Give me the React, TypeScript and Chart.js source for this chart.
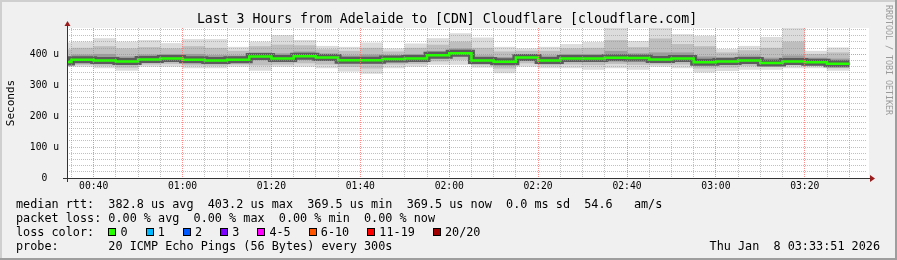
import React, { useEffect, useRef } from "react";
import { Chart, registerables } from "chart.js";

Chart.register(...registerables);

// ---- data ----
// start minute (after midnight) of each 5-minute smokeping step
const SLOT_START = [30, 35, 40, 45, 50, 55, 60, 65, 70, 75, 80, 85, 90, 95, 100, 105, 110, 115,
  120, 125, 130, 135, 140, 145, 150, 155, 160, 165, 170, 175, 180, 185, 190, 195, 200, 205];
// median rtt (microseconds)
const MEDIAN_RTT = [375, 382, 380, 377, 383, 386, 382, 380, 382, 393, 386, 394, 390, 381, 381, 385, 386, 397,
  403.2, 380, 376, 390, 380, 386, 386, 389, 388, 383, 386, 374, 377, 380, 372, 377, 374, 369.5];
// lowest / highest ping of the step
const MIN_RTT = [360, 361, 356, 348, 361, 361, 356, 356, 361, 348, 361, 361, 356, 345, 338, 356, 361, 367,
  367, 358, 340, 361, 356, 356, 351, 356, 351, 361, 356, 342, 347, 351, 351, 356, 356, 348];
const MAX_RTT = [437, 440, 451, 440, 445, 435, 448, 448, 423, 440, 461, 445, 426, 423, 437, 418, 434, 451,
  467, 453, 423, 418, 423, 432, 439, 486, 442, 488, 464, 459, 416, 426, 455, 484, 410, 421];
// outer-middle smoke band
const LOW_2 = [365, 367, 364, 358, 368, 370, 365, 364, 368, 365, 368, 372, 368, 360, 355, 368, 370, 378,
  383, 366, 355, 372, 365, 368, 366, 370, 367, 368, 368, 355, 358, 363, 360, 365, 363, 356];
const HIGH_2 = [415, 420, 425, 418, 422, 418, 425, 420, 410, 425, 430, 428, 415, 410, 420, 408, 420, 430,
  440, 420, 408, 410, 410, 418, 420, 445, 422, 450, 432, 425, 405, 412, 420, 440, 400, 405];
// inner smoke band
const LOW_1 = [370, 375, 372, 368, 376, 378, 374, 372, 375, 382, 377, 385, 380, 372, 370, 377, 378, 388,
  395, 373, 366, 382, 373, 378, 377, 380, 378, 376, 377, 366, 370, 372, 366, 371, 369, 363];
const HIGH_1 = [390, 398, 400, 392, 398, 400, 400, 396, 395, 405, 402, 408, 402, 395, 398, 396, 400, 410,
  418, 395, 390, 400, 395, 400, 400, 410, 402, 405, 405, 392, 390, 395, 388, 395, 388, 385];

const X_LABEL_MINUTES = [40, 60, 80, 100, 120, 140, 160, 180, 200];
const X_TICK_LABELS = ["00:40", "01:00", "01:20", "01:40", "02:00", "02:20", "02:40", "03:00", "03:20"];
const Y_LABEL_VALUES = [0, 100, 200, 300, 400];
const Y_TICK_LABELS = ["0  ", "100 u", "200 u", "300 u", "400 u"];

const LOSS_LABELS = ["0", "1", "2", "3", "4-5", "6-10", "11-19", "20/20"];
const LOSS_COLORS = ["#26ff00", "#00b8ff", "#0059ff", "#7e00ff", "#ff00ff", "#ff5500", "#ff0000", "#a10000"];

const TITLE = "Last 3 Hours from Adelaide to [CDN] Cloudflare [cloudflare.com]";
const STATS_RTT = "median rtt:  382.8 us avg  403.2 us max  369.5 us min  369.5 us now  0.0 ms sd  54.6   am/s";
const STATS_LOSS = "packet loss: 0.00 % avg  0.00 % max  0.00 % min  0.00 % now";
const LOSS_TITLE = "loss color:";
const PROBE_TEXT = "probe:       20 ICMP Echo Pings (56 Bytes) every 300s";
const DATE_TEXT = "Thu Jan  8 03:33:51 2026";
const Y_TITLE = "Seconds";
const WATERMARK = "RRDTOOL / TOBI OETIKER";

// ---- axis range (minutes after midnight) ----
const X_MIN = 34;
const X_MAX = 214;
const Y_MAX = 485;
const STEP = 5;

const FONT = '"DejaVu Sans Mono", monospace';
const GRID_GRAY = "rgba(150,150,150,0.6)";
const GRID_RED = "rgba(255,110,110,0.8)";

const decorPlugin = {
  id: "decor",
  beforeDraw(chart: any) {
    const { ctx, width, height, chartArea: a } = chart;
    ctx.save();
    ctx.fillStyle = "#f0f0f0";
    ctx.fillRect(0, 0, width, height);
    ctx.fillStyle = "#cfcfcf";
    ctx.fillRect(0, 0, width, 2);
    ctx.fillRect(0, 0, 2, height);
    ctx.fillStyle = "#9e9e9e";
    ctx.fillRect(0, height - 2, width, 2);
    ctx.fillRect(width - 2, 0, 2, height);
    ctx.fillStyle = "#ffffff";
    ctx.fillRect(a.left, a.top, a.right - a.left + 2, a.bottom - a.top);
    ctx.restore();
  },
  afterDraw(chart: any) {
    const { ctx, chartArea: a } = chart;
    ctx.save();
    // axes
    ctx.fillStyle = "#333333";
    const ax = Math.round(a.left);
    const ay = Math.round(a.bottom);
    ctx.fillRect(ax, a.top - 2, 1, ay - a.top + 6);
    ctx.fillRect(ax - 4, ay, a.right - ax + 7, 1);
    // arrows
    ctx.fillStyle = "#9b1c1c";
    ctx.beginPath();
    ctx.moveTo(ax - 2.5, a.top - 2);
    ctx.lineTo(ax + 0.5, a.top - 7);
    ctx.lineTo(ax + 3.5, a.top - 2);
    ctx.closePath();
    ctx.fill();
    ctx.beginPath();
    ctx.moveTo(a.right + 3, ay - 3);
    ctx.lineTo(a.right + 8, ay + 0.5);
    ctx.lineTo(a.right + 3, ay + 4);
    ctx.closePath();
    ctx.fill();

    // title
    ctx.fillStyle = "#000000";
    ctx.font = `13.2px ${FONT}`;
    ctx.textAlign = "center";
    ctx.textBaseline = "alphabetic";
    ctx.fillText(TITLE, 447, 23);

    // y title
    ctx.save();
    ctx.font = `11px ${FONT}`;
    ctx.translate(14, (a.top + a.bottom) / 2);
    ctx.rotate(-Math.PI / 2);
    ctx.textAlign = "center";
    ctx.fillText(Y_TITLE, 0, 0);
    ctx.restore();

    // watermark
    ctx.save();
    ctx.font = `8.3px ${FONT}`;
    ctx.fillStyle = "#9a9a9a";
    ctx.translate(886, 5);
    ctx.rotate(Math.PI / 2);
    ctx.textAlign = "left";
    ctx.fillText(WATERMARK, 0, 0);
    ctx.restore();

    // legend
    ctx.font = `11.8px ${FONT}`;
    ctx.textAlign = "left";
    ctx.fillStyle = "#000000";
    ctx.fillText(STATS_RTT, 16, 208);
    ctx.fillText(STATS_LOSS, 16, 222);
    ctx.fillText(LOSS_TITLE, 16, 236);
    ctx.fillText(PROBE_TEXT, 16, 250);
    const charW = ctx.measureText("0").width;
    let bx = 108.3;
    LOSS_LABELS.forEach((lab, i) => {
      const x = Math.round(bx);
      ctx.fillStyle = LOSS_COLORS[i];
      ctx.fillRect(x, 228, 8, 8);
      ctx.strokeStyle = "#000000";
      ctx.lineWidth = 1;
      ctx.strokeRect(x + 0.5, 228.5, 7, 7);
      ctx.fillStyle = "#000000";
      ctx.fillText(lab, bx + 12.3, 236);
      bx += 11.3 + lab.length * charW + 18.8;
    });
    ctx.textAlign = "right";
    ctx.fillText(DATE_TEXT, 880, 250);
    ctx.restore();
  },
};

function bandDataset(lo: number[], hi: number[], color: string, order: number) {
  return {
    type: "bar" as const,
    data: SLOT_START.map((s, i) => ({ x: s + STEP / 2, y: [lo[i], hi[i]] })),
    backgroundColor: color,
    borderWidth: 0,
    barPercentage: 1,
    categoryPercentage: 1,
    grouped: false,
    order,
  };
}

function medianPoints() {
  const pts = SLOT_START.map((s, i) => ({ x: s, y: MEDIAN_RTT[i] }));
  const last = SLOT_START.length - 1;
  pts.push({ x: SLOT_START[last] + STEP, y: MEDIAN_RTT[last] });
  return pts;
}

export default function App() {
  const ref = useRef<HTMLCanvasElement>(null);
  useEffect(() => {
    document.body.style.margin = "0";
    const gridMinutes: number[] = [];
    for (let m = 35; m < X_MAX; m += STEP) gridMinutes.push(m);

    const chart = new Chart(ref.current as HTMLCanvasElement, {
      type: "bar",
      data: {
        datasets: [
          bandDataset(MIN_RTT, MAX_RTT, "#dcdcdc", 6),
          bandDataset(LOW_2, HIGH_2, "#bebebe", 5),
          bandDataset(LOW_1, HIGH_1, "#9c9c9c", 4),
          {
            type: "line",
            data: medianPoints(),
            borderColor: "#5c5c5c",
            borderWidth: 7,
            stepped: true,
            pointRadius: 0,
            borderCapStyle: "butt",
            order: 2,
          } as any,
          {
            type: "line",
            data: medianPoints(),
            borderColor: "#26ff00",
            borderWidth: 2.5,
            stepped: true,
            pointRadius: 0,
            borderCapStyle: "butt",
            order: 1,
          } as any,
        ],
      },
      options: {
        responsive: false,
        animation: false,
        devicePixelRatio: 1,
        layout: { padding: { top: 28, right: 30, left: 0, bottom: 0 } },
        plugins: { legend: { display: false }, tooltip: { enabled: false }, title: { display: false } },
        scales: {
          x: {
            type: "linear",
            min: X_MIN,
            max: X_MAX,
            offset: false,
            afterFit: (s: any) => {
              s.height = 82;
            },
            afterBuildTicks: (s: any) => {
              s.ticks = gridMinutes.map((v) => ({ value: v }));
            },
            ticks: {
              autoSkip: false,
              maxRotation: 0,
              padding: 3,
              color: "#000000",
              font: { family: FONT, size: 9.7 },
              callback: (v: any) => {
                const i = X_LABEL_MINUTES.indexOf(Number(v));
                return i >= 0 ? X_TICK_LABELS[i] : "";
              },
            },
            grid: {
              offset: false,
              drawTicks: false,
              z: 1,
              lineWidth: 1,
              color: (c: any) => (c.tick && c.tick.value % 20 === 0 ? GRID_RED : GRID_GRAY),
            },
            border: { display: false, dash: [1, 1] },
          },
          y: {
            type: "linear",
            min: 0,
            max: Y_MAX,
            afterFit: (s: any) => {
              s.width = 67;
            },
            ticks: {
              stepSize: 20,
              includeBounds: false,
              autoSkip: false,
              padding: 8,
              color: "#000000",
              font: { family: FONT, size: 9.7 },
              callback: (v: any) => {
                const i = Y_LABEL_VALUES.indexOf(Number(v));
                return i >= 0 ? Y_TICK_LABELS[i] : "";
              },
            },
            grid: {
              drawTicks: false,
              z: 1,
              lineWidth: 1,
              color: (c: any) =>
                c.tick && c.tick.value === 0
                  ? "rgba(0,0,0,0)"
                  : c.tick && c.tick.value % 200 === 0
                  ? GRID_RED
                  : GRID_GRAY,
            },
            border: { display: false, dash: [1, 1] },
          },
        },
      } as any,
      plugins: [decorPlugin],
    } as any);
    return () => chart.destroy();
  }, []);
  return (
    <div style={{ width: 897, height: 260 }}>
      <canvas ref={ref} width={897} height={260} style={{ display: "block", width: 897, height: 260 }} />
    </div>
  );
}
